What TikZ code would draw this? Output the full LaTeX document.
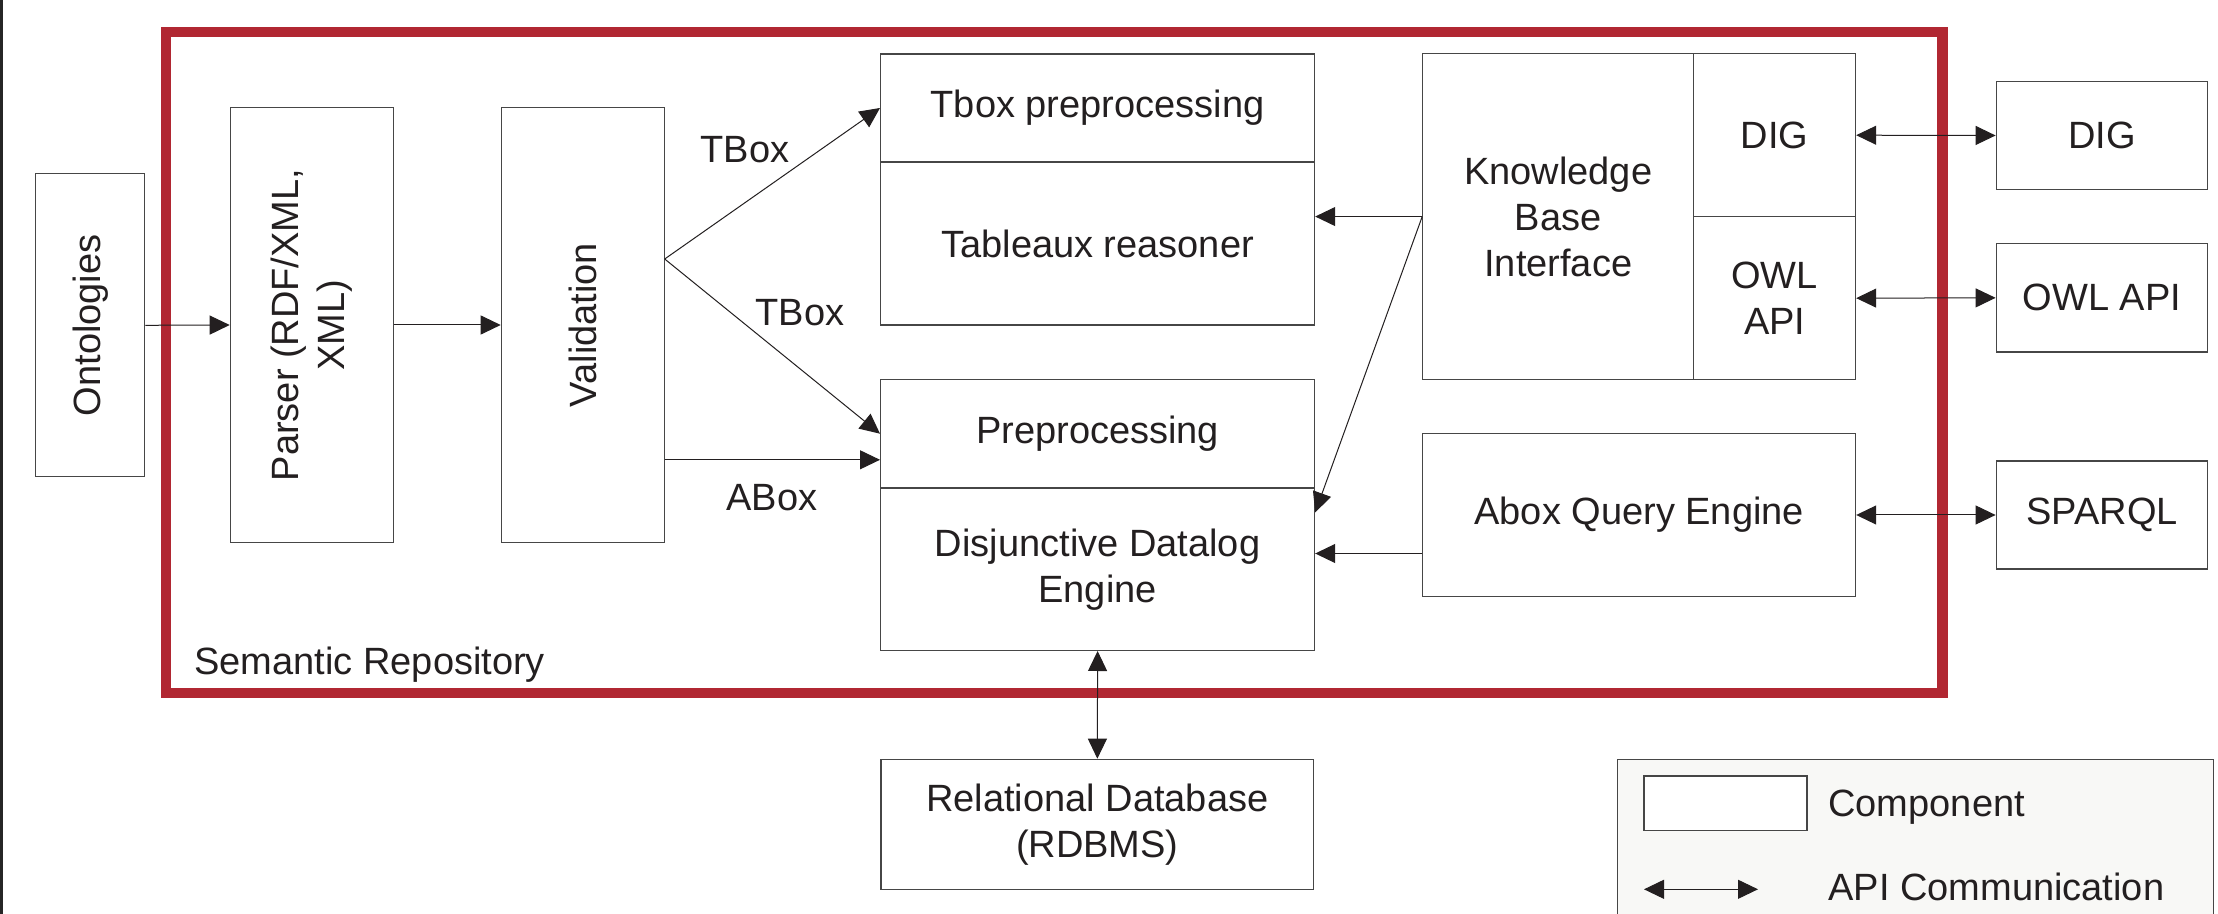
\documentclass[tikz,border=0pt]{standalone}
\usepackage{fontspec}
\setmainfont{Liberation Sans}
\usetikzlibrary{arrows.meta,calc}
\definecolor{framered}{RGB}{177,39,50}
\definecolor{ink}{RGB}{35,31,32}
\definecolor{boxline}{RGB}{70,70,70}
\definecolor{lgfill}{RGB}{248,248,246}
\begin{document}
\begin{tikzpicture}[x=0.5pt,y=-0.5pt,
  box/.style={draw=boxline, line width=0.6pt, inner sep=0pt, align=center, text=ink,
    font=\fontsize{19pt}{23pt}\selectfont},
  lbl/.style={inner sep=0pt, text=ink, font=\fontsize{19pt}{23pt}\selectfont},
  conn/.style={draw=ink, line width=0.5pt},
  arr/.style={conn, -{Triangle[length=10pt,width=9.5pt]}},
  darr/.style={conn, {Triangle[length=10pt,width=9.5pt]}-{Triangle[length=10pt,width=9.5pt]}}]
\clip (0,0) rectangle (2218,914);
\fill[white] (0,0) rectangle (2218,914);
\fill[black!85] (0,0) rectangle (3,914);

% semantic repository frame
\draw[framered, line width=5.25pt] (166,32) rectangle (1942.5,693);
\node[lbl, anchor=base west] (semrep) at (194,675) {Semantic Repository};

% left chain
\node[box, rotate=90, minimum width=151.5pt, minimum height=54.5pt] (ont) at (90.2,325.3) {Ontologies};
\node[box, rotate=90, minimum width=217.2pt, minimum height=81.7pt] (parser) at (312,325) {Parser (RDF/XML,\\XML)};
\node[box, rotate=90, minimum width=217.2pt, minimum height=81.7pt] (valid) at (583,325) {Validation};

% reasoner blocks
\node[box, minimum width=217pt, minimum height=54pt] (tbox) at (1097.6,108) {Tbox preprocessing};
\node[box, minimum width=217pt, minimum height=81.5pt] (tab) at (1097.6,243.5) {Tableaux reasoner};
\node[box, minimum width=217pt, minimum height=54.3pt] (pre) at (1097.6,433.7) {Preprocessing};
\node[box, minimum width=217pt, minimum height=81.2pt] (dde) at (1097.6,569.2) {Disjunctive Datalog\\Engine};

% knowledge base interface
\node[box, minimum width=135.45pt, minimum height=162.95pt] (kbi) at (1558.25,216.55) {Knowledge\\Base\\Interface};
\node[box, minimum width=80.95pt, minimum height=81.6pt] (digi) at (1774.65,135.2) {DIG};
\node[box, minimum width=80.95pt, minimum height=81.35pt] (owli) at (1774.65,298.15) {OWL\\API};
\node[box, minimum width=216.4pt, minimum height=81.3pt] (aqe) at (1639.2,515) {Abox Query Engine};

% external
\node[box, minimum width=105.8pt, minimum height=53.9pt] (dig) at (2102,135.5) {DIG};
\node[box, minimum width=105.8pt, minimum height=54.15pt] (owl) at (2102,297.85) {OWL API};
\node[box, minimum width=105.8pt, minimum height=54pt] (sparql) at (2102,515) {SPARQL};
\node[box, minimum width=216.35pt, minimum height=65pt] (rdb) at (1097.35,824.3) {Relational Database\\(RDBMS)};

% connectors
\draw[arr] (ont.south) -- (parser.north);
\draw[arr] (parser.south) -- (valid.north);
\coordinate (fork) at (664.7,259);
\coordinate (aboxs) at (664.7,459.8);
\draw[arr] (fork) -- (tbox.west);
\draw[arr] (fork) -- (pre.west);
\draw[arr] (aboxs) -- (aboxs -| pre.west);
\node[lbl] (tbl1) at (745,150) {TBox};
\node[lbl] (tbl2) at (800,312.5) {TBox};
\node[lbl] (abl) at (772,498) {ABox};

\draw[arr] (kbi.west) -- (kbi.west -| tab.east);
\draw[arr] (kbi.west) -- ([yshift=-12.5pt]dde.north east);
\coordinate (aqin) at ([yshift=-19.25pt]aqe.west);
\draw[arr] (aqin) -- (aqin -| dde.east);

\draw[darr] (digi.east) -- (dig.west);
\draw[darr] (owli.east) -- (owl.west);
\draw[darr] (aqe.east) -- (sparql.west);
\draw[darr] (dde.south) -- (rdb.north);

% legend
\draw[boxline, line width=0.6pt, fill=lgfill] (1617.5,759.4) rectangle (2213.7,940);
\node[box, fill=white, minimum width=81.5pt, minimum height=27.1pt] (lgcomp) at (1725.5,803) {};
\node[lbl, anchor=west] (lgcomptxt) at (1828,807) {Component};
\coordinate (la1) at (1644,889.3);
\coordinate (la2) at (1758,889.3);
\draw[darr] (la1) -- (la2);
\node[lbl, anchor=west] (lgapitxt) at (1828,887) {API Communication};
\end{tikzpicture}
\end{document}
